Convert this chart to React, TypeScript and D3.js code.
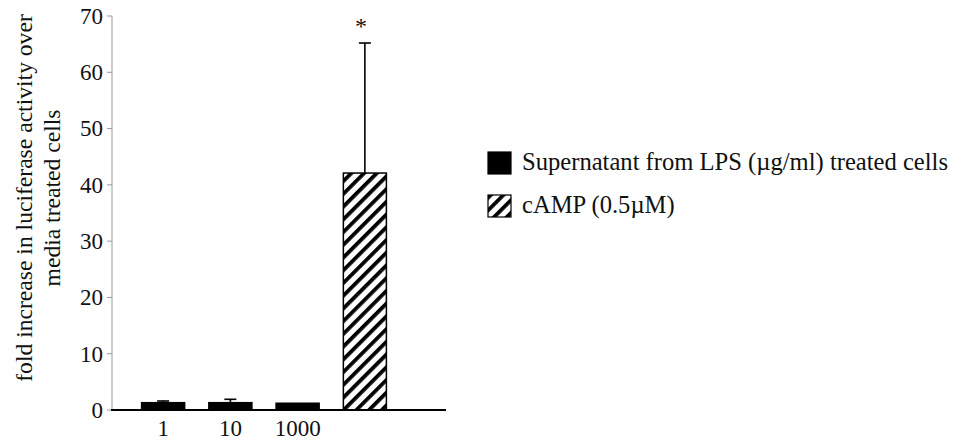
import React from 'react';
import * as d3 from 'd3';

const categories = ['1', '10', '1000', 'cAMP'];
const values = [1.3, 1.3, 1.2, 42.1];
const errors = [0.3, 0.6, 0, 23.1];
const hatched = [false, false, false, true];
const yTicks = [0, 10, 20, 30, 40, 50, 60, 70];
const xLabels = ['1', '10', '1000', ''];
const legendLabels = ['Supernatant from LPS (\u00b5g/ml) treated cells', 'cAMP (0.5\u00b5M)'];
const yLabelLines = ['fold increase in luciferase activity over', 'media treated cells'];

const FONT = 'Times New Roman, Liberation Serif, DejaVu Serif, serif';

export default function App() {
  // scales
  const y = d3.scaleLinear().domain([0, 70]).range([410, 16]);
  const x = d3.scaleBand<string>().domain(categories).range([129.5, 398.5]).paddingInner(0.36).paddingOuter(0.18);
  const bw = x.bandwidth();

  return (
    <svg width={966} height={447} style={{ display: 'block', position: 'absolute', left: 0, top: 0 }}>
      <defs>
        <pattern id="hatch" patternUnits="userSpaceOnUse" width={9} height={9} patternTransform="rotate(45)">
          <rect width={9} height={9} fill="#fff" />
          <rect x={0} y={0} width={3.8} height={9} fill="#000" />
        </pattern>
      </defs>

      {/* y axis */}
      <line x1={112} x2={112} y1={y(70)} y2={y(0)} stroke="#999" strokeWidth={1} />
      {yTicks.map(t => (
        <g key={t}>
          <line x1={107} x2={112} y1={y(t)} y2={y(t)} stroke="#999" strokeWidth={1} />
          <text x={103} y={y(t)} dy="0.34em" textAnchor="end" fontFamily={FONT} fontSize={23} fill="#111">{t}</text>
        </g>
      ))}

      {/* y label */}
      <g transform={`translate(0, 198) rotate(-90)`}>
        {yLabelLines.map((l, i) => (
          <text key={i} x={0} y={32 + i * 28} textAnchor="middle" fontFamily={FONT} fontSize={23.6} fill="#111">{l}</text>
        ))}
      </g>

      {/* bars */}
      {categories.map((c, i) => {
        const x0 = x(c) as number;
        const cx = x0 + bw / 2;
        return (
          <g key={c}>
            {errors[i] > 0 && (
              <g stroke="#000" strokeWidth={1.6}>
                <line x1={cx} x2={cx} y1={y(values[i])} y2={y(values[i] + errors[i])} />
                <line x1={cx - 6} x2={cx + 6} y1={y(values[i] + errors[i])} y2={y(values[i] + errors[i])} />
              </g>
            )}
            <rect
              x={x0}
              y={y(values[i])}
              width={bw}
              height={y(0) - y(values[i])}
              fill={hatched[i] ? 'url(#hatch)' : '#000'}
              stroke="#000"
              strokeWidth={1.5}
            />
            <text x={cx} y={436} textAnchor="middle" fontFamily={FONT} fontSize={23} fill="#111">{xLabels[i]}</text>
          </g>
        );
      })}

      {/* significance */}
      <text x={(x('cAMP') as number) + bw / 2 - 4} y={y(values[3] + errors[3]) - 9} textAnchor="middle" fontFamily={FONT} fontSize={24} fill="#111">*</text>

      {/* x axis */}
      <line x1={111} x2={446} y1={y(0)} y2={y(0)} stroke="#000" strokeWidth={1.8} />

      {/* legend */}
      {legendLabels.map((l, i) => (
        <g key={i} transform={`translate(488, ${152 + i * 43})`}>
          <rect x={0} y={0} width={23} height={22} fill={i === 1 ? 'url(#hatch)' : '#000'} stroke="#000" strokeWidth={1.2} />
          <text x={34} y={18} fontFamily={FONT} fontSize={24.6} fill="#111">{l}</text>
        </g>
      ))}
    </svg>
  );
}
